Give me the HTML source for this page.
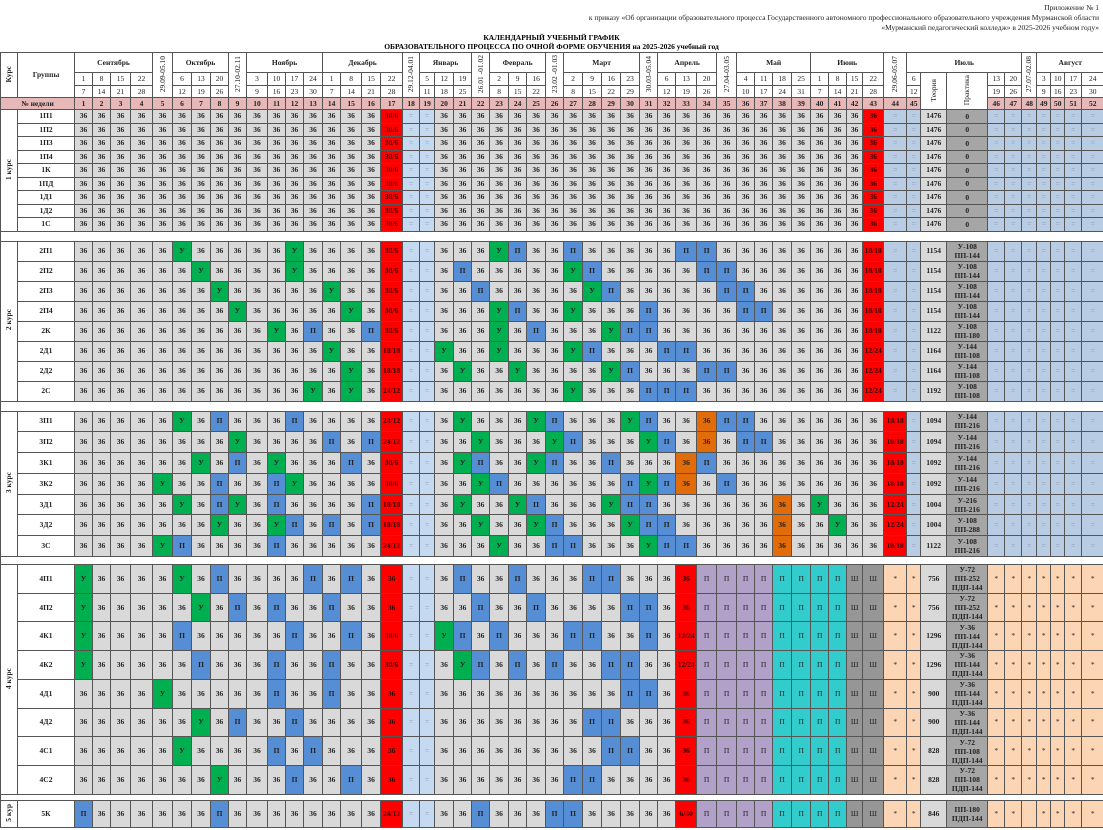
<!DOCTYPE html>
<html><head><meta charset="utf-8">
<style>
body{margin:0;width:1103px;height:830px;background:#fff;position:relative;overflow:hidden;font-family:"Liberation Serif","DejaVu Serif",serif;}
.t1{position:absolute;right:4px;font-size:7.5px;color:#222;line-height:9px;text-align:right}
.hd{position:absolute;left:0;width:1103px;text-align:center;font-size:7.5px;font-weight:bold;line-height:9px}
table{position:absolute;left:0;top:52px;width:1103px;border-collapse:collapse;table-layout:fixed}
td{border:1px solid #555;padding:0;text-align:center;vertical-align:middle;font-size:7.5px;font-weight:bold;line-height:8px;background:#d9d9d9;color:#222;overflow:hidden;white-space:nowrap}
thead td{background:#fff;font-weight:normal}
thead td.m{font-weight:bold}
.vt{writing-mode:vertical-rl;transform:rotate(180deg);display:inline-block;font-weight:normal;font-size:7.5px}
tr.wk td{background:#e6b8b7;font-weight:bold;height:11px}
td.gn{background:#fff}
td.k{background:#fff}
td.k div{writing-mode:vertical-rl;transform:rotate(180deg);display:inline-block;font-size:7.5px}
.u{background:#00b050}.p{background:#558ed5}.r{background:#ff0000;color:#300}
.e{background:#c5d9f1;color:#889;font-weight:normal}.s{background:#b8cce4;color:#889;font-weight:normal}
.o{background:#e26b0a}.v{background:#b1a0c7;font-weight:normal}.t{background:#33cccc;font-weight:normal}.w{background:#969696;font-weight:normal}
.a{background:#fcd5b4;font-weight:normal}.th{background:#d9d9d9}.pr{background:#a6a6a6;white-space:normal;line-height:9px}
tr.h1 td{height:12.5px}tr.h2 td{height:19px}tr.h3 td{height:19.8px}tr.h4 td{height:27.7px}tr.h5 td{height:26px}
tr.gap td{background:#fff;border-left:1px solid #555;border-right:1px solid #555}
</style></head><body>
<div class="t1" style="top:3px">Приложение № 1</div>
<div class="t1" style="top:13px">к приказу «Об организации образовательного процесса Государственного автономного профессионального образовательного учреждения Мурманской области</div>
<div class="t1" style="top:23px">«Мурманский педагогический колледж» в 2025-2026 учебном году»</div>
<div class="hd" style="top:33px">КАЛЕНДАРНЫЙ УЧЕБНЫЙ ГРАФИК</div>
<div class="hd" style="top:42px">ОБРАЗОВАТЕЛЬНОГО ПРОЦЕССА ПО ОЧНОЙ ФОРМЕ ОБУЧЕНИЯ на 2025-2026 учебный год</div>
<table>
<colgroup>
<col style="width:17px"><col style="width:57px">
<col style="width:18px"><col style="width:18px"><col style="width:20px"><col style="width:22px"><col style="width:20px"><col style="width:19px"><col style="width:19px"><col style="width:18px"><col style="width:18px"><col style="width:21px"><col style="width:18px"><col style="width:18px"><col style="width:19px"><col style="width:18px"><col style="width:21px"><col style="width:19px"><col style="width:22px"><col style="width:17px"><col style="width:15px"><col style="width:19px"><col style="width:18px"><col style="width:18px"><col style="width:19px"><col style="width:18px"><col style="width:19px"><col style="width:18px"><col style="width:19px"><col style="width:19px"><col style="width:19px"><col style="width:19px"><col style="width:18px"><col style="width:18px"><col style="width:21px"><col style="width:20px"><col style="width:20px"><col style="width:18px"><col style="width:18px"><col style="width:19px"><col style="width:19px"><col style="width:18px"><col style="width:18px"><col style="width:16px"><col style="width:21px"><col style="width:23px"><col style="width:14px">
<col style="width:26px"><col style="width:41px">
<col style="width:17px"><col style="width:17px"><col style="width:15px"><col style="width:14px"><col style="width:14px"><col style="width:17px"><col style="width:22px">
</colgroup>
<thead>
<tr style="height:20px"><td rowspan=3 class=m><span class="vt" style="font-weight:bold">Курс</span><td rowspan=3 class=m>Группы<td colspan=4 class=m>Сентябрь<td rowspan=3><span class=vt>29.09-05.10</span><td colspan=3 class=m>Октябрь<td rowspan=3><span class=vt>27.10-02.11</span><td colspan=4 class=m>Ноябрь<td colspan=4 class=m>Декабрь<td rowspan=3><span class=vt>29.12-04.01</span><td colspan=3 class=m>Январь<td rowspan=3><span class=vt>26.01 -01.02</span><td colspan=3 class=m>Февраль<td rowspan=3><span class=vt>23.02 -01.03</span><td colspan=4 class=m>Март<td rowspan=3><span class=vt>30.03-05.04</span><td colspan=3 class=m>Апрель<td rowspan=3><span class=vt>27.04-03.05</span><td colspan=4 class=m>Май<td colspan=4 class=m>Июнь<td rowspan=3><span class=vt>29.06-05.07</span><td colspan=5 class=m>Июль<td rowspan=3><span class=vt>27.07-02.08</span><td colspan=4 class=m>Август
<tr style="height:13px"><td>1<td>8<td>15<td>22<td>6<td>13<td>20<td>3<td>10<td>17<td>24<td>1<td>8<td>15<td>22<td>5<td>12<td>19<td>2<td>9<td>16<td>2<td>9<td>16<td>23<td>6<td>13<td>20<td>4<td>11<td>18<td>25<td>1<td>8<td>15<td>22<td>6<td rowspan=3><span class=vt>Теория</span><td rowspan=3><span class=vt>Практика</span><td>13<td>20<td>3<td>10<td>17<td>24
<tr style="height:12px"><td>7<td>14<td>21<td>28<td>12<td>19<td>26<td>9<td>16<td>23<td>30<td>7<td>14<td>21<td>28<td>11<td>18<td>25<td>8<td>15<td>22<td>8<td>15<td>22<td>29<td>12<td>19<td>26<td>10<td>17<td>24<td>31<td>7<td>14<td>21<td>28<td>12<td>19<td>26<td>9<td>16<td>23<td>30
<tr class=wk><td colspan=2>№ недели<td>1<td>2<td>3<td>4<td>5<td>6<td>7<td>8<td>9<td>10<td>11<td>12<td>13<td>14<td>15<td>16<td>17<td>18<td>19<td>20<td>21<td>22<td>23<td>24<td>25<td>26<td>27<td>28<td>29<td>30<td>31<td>32<td>33<td>34<td>35<td>36<td>37<td>38<td>39<td>40<td>41<td>42<td>43<td>44<td>45<td>46<td>47<td>48<td>49<td>50<td>51<td>52
</thead>
<tbody>
<tr class=h1><td rowspan=9 class=k><div>1 курс</div><td class=gn>1П1<td>36<td>36<td>36<td>36<td>36<td>36<td>36<td>36<td>36<td>36<td>36<td>36<td>36<td>36<td>36<td>36<td class=r>30/6<td class=e>=<td class=e>=<td>36<td>36<td>36<td>36<td>36<td>36<td>36<td>36<td>36<td>36<td>36<td>36<td>36<td>36<td>36<td>36<td>36<td>36<td>36<td>36<td>36<td>36<td>36<td class=r>36<td class=s>=<td class=s>=<td class=th>1476<td class=pr>0<td class=s>=<td class=s>=<td class=s>=<td class=s>=<td class=s>=<td class=s>=<td class=s>=
<tr class=h1><td class=gn>1П2<td>36<td>36<td>36<td>36<td>36<td>36<td>36<td>36<td>36<td>36<td>36<td>36<td>36<td>36<td>36<td>36<td class=r>30/6<td class=e>=<td class=e>=<td>36<td>36<td>36<td>36<td>36<td>36<td>36<td>36<td>36<td>36<td>36<td>36<td>36<td>36<td>36<td>36<td>36<td>36<td>36<td>36<td>36<td>36<td>36<td class=r>36<td class=s>=<td class=s>=<td class=th>1476<td class=pr>0<td class=s>=<td class=s>=<td class=s>=<td class=s>=<td class=s>=<td class=s>=<td class=s>=
<tr class=h1><td class=gn>1П3<td>36<td>36<td>36<td>36<td>36<td>36<td>36<td>36<td>36<td>36<td>36<td>36<td>36<td>36<td>36<td>36<td class=r>30/6<td class=e>=<td class=e>=<td>36<td>36<td>36<td>36<td>36<td>36<td>36<td>36<td>36<td>36<td>36<td>36<td>36<td>36<td>36<td>36<td>36<td>36<td>36<td>36<td>36<td>36<td>36<td class=r>36<td class=s>=<td class=s>=<td class=th>1476<td class=pr>0<td class=s>=<td class=s>=<td class=s>=<td class=s>=<td class=s>=<td class=s>=<td class=s>=
<tr class=h1><td class=gn>1П4<td>36<td>36<td>36<td>36<td>36<td>36<td>36<td>36<td>36<td>36<td>36<td>36<td>36<td>36<td>36<td>36<td class=r>30/6<td class=e>=<td class=e>=<td>36<td>36<td>36<td>36<td>36<td>36<td>36<td>36<td>36<td>36<td>36<td>36<td>36<td>36<td>36<td>36<td>36<td>36<td>36<td>36<td>36<td>36<td>36<td class=r>36<td class=s>=<td class=s>=<td class=th>1476<td class=pr>0<td class=s>=<td class=s>=<td class=s>=<td class=s>=<td class=s>=<td class=s>=<td class=s>=
<tr class=h1><td class=gn>1К<td>36<td>36<td>36<td>36<td>36<td>36<td>36<td>36<td>36<td>36<td>36<td>36<td>36<td>36<td>36<td>36<td class=r>30/6<td class=e>=<td class=e>=<td>36<td>36<td>36<td>36<td>36<td>36<td>36<td>36<td>36<td>36<td>36<td>36<td>36<td>36<td>36<td>36<td>36<td>36<td>36<td>36<td>36<td>36<td>36<td class=r>36<td class=s>=<td class=s>=<td class=th>1476<td class=pr>0<td class=s>=<td class=s>=<td class=s>=<td class=s>=<td class=s>=<td class=s>=<td class=s>=
<tr class=h1><td class=gn>1ПД<td>36<td>36<td>36<td>36<td>36<td>36<td>36<td>36<td>36<td>36<td>36<td>36<td>36<td>36<td>36<td>36<td class=r>30/6<td class=e>=<td class=e>=<td>36<td>36<td>36<td>36<td>36<td>36<td>36<td>36<td>36<td>36<td>36<td>36<td>36<td>36<td>36<td>36<td>36<td>36<td>36<td>36<td>36<td>36<td>36<td class=r>36<td class=s>=<td class=s>=<td class=th>1476<td class=pr>0<td class=s>=<td class=s>=<td class=s>=<td class=s>=<td class=s>=<td class=s>=<td class=s>=
<tr class=h1><td class=gn>1Д1<td>36<td>36<td>36<td>36<td>36<td>36<td>36<td>36<td>36<td>36<td>36<td>36<td>36<td>36<td>36<td>36<td class=r>30/6<td class=e>=<td class=e>=<td>36<td>36<td>36<td>36<td>36<td>36<td>36<td>36<td>36<td>36<td>36<td>36<td>36<td>36<td>36<td>36<td>36<td>36<td>36<td>36<td>36<td>36<td>36<td class=r>36<td class=s>=<td class=s>=<td class=th>1476<td class=pr>0<td class=s>=<td class=s>=<td class=s>=<td class=s>=<td class=s>=<td class=s>=<td class=s>=
<tr class=h1><td class=gn>1Д2<td>36<td>36<td>36<td>36<td>36<td>36<td>36<td>36<td>36<td>36<td>36<td>36<td>36<td>36<td>36<td>36<td class=r>30/6<td class=e>=<td class=e>=<td>36<td>36<td>36<td>36<td>36<td>36<td>36<td>36<td>36<td>36<td>36<td>36<td>36<td>36<td>36<td>36<td>36<td>36<td>36<td>36<td>36<td>36<td>36<td class=r>36<td class=s>=<td class=s>=<td class=th>1476<td class=pr>0<td class=s>=<td class=s>=<td class=s>=<td class=s>=<td class=s>=<td class=s>=<td class=s>=
<tr class=h1><td class=gn>1С<td>36<td>36<td>36<td>36<td>36<td>36<td>36<td>36<td>36<td>36<td>36<td>36<td>36<td>36<td>36<td>36<td class=r>30/6<td class=e>=<td class=e>=<td>36<td>36<td>36<td>36<td>36<td>36<td>36<td>36<td>36<td>36<td>36<td>36<td>36<td>36<td>36<td>36<td>36<td>36<td>36<td>36<td>36<td>36<td>36<td class=r>36<td class=s>=<td class=s>=<td class=th>1476<td class=pr>0<td class=s>=<td class=s>=<td class=s>=<td class=s>=<td class=s>=<td class=s>=<td class=s>=
<tr class=gap><td colspan=56 style="height:9px">

<tr class=h2><td rowspan=8 class=k><div>2 курс</div><td class=gn>2П1<td>36<td>36<td>36<td>36<td>36<td class=u>У<td>36<td>36<td>36<td>36<td>36<td class=u>У<td>36<td>36<td>36<td>36<td class=r>30/6<td class=e>=<td class=e>=<td>36<td>36<td>36<td class=u>У<td class=p>П<td>36<td>36<td class=p>П<td>36<td>36<td>36<td>36<td>36<td class=p>П<td class=p>П<td>36<td>36<td>36<td>36<td>36<td>36<td>36<td>36<td class=r>18/18<td class=s>=<td class=s>=<td class=th>1154<td class=pr>У-108<br>ПП-144<td class=s>=<td class=s>=<td class=s>=<td class=s>=<td class=s>=<td class=s>=<td class=s>=
<tr class=h2><td class=gn>2П2<td>36<td>36<td>36<td>36<td>36<td>36<td class=u>У<td>36<td>36<td>36<td>36<td class=u>У<td>36<td>36<td>36<td>36<td class=r>30/6<td class=e>=<td class=e>=<td>36<td class=p>П<td>36<td>36<td>36<td>36<td>36<td class=u>У<td class=p>П<td>36<td>36<td>36<td>36<td>36<td class=p>П<td class=p>П<td>36<td>36<td>36<td>36<td>36<td>36<td>36<td class=r>18/18<td class=s>=<td class=s>=<td class=th>1154<td class=pr>У-108<br>ПП-144<td class=s>=<td class=s>=<td class=s>=<td class=s>=<td class=s>=<td class=s>=<td class=s>=
<tr class=h2><td class=gn>2П3<td>36<td>36<td>36<td>36<td>36<td>36<td>36<td class=u>У<td>36<td>36<td>36<td>36<td>36<td class=u>У<td>36<td>36<td class=r>30/6<td class=e>=<td class=e>=<td>36<td>36<td class=p>П<td>36<td>36<td>36<td>36<td>36<td class=u>У<td class=p>П<td>36<td>36<td>36<td>36<td>36<td class=p>П<td class=p>П<td>36<td>36<td>36<td>36<td>36<td>36<td class=r>18/18<td class=s>=<td class=s>=<td class=th>1154<td class=pr>У-108<br>ПП-144<td class=s>=<td class=s>=<td class=s>=<td class=s>=<td class=s>=<td class=s>=<td class=s>=
<tr class=h2><td class=gn>2П4<td>36<td>36<td>36<td>36<td>36<td>36<td>36<td>36<td class=u>У<td>36<td>36<td>36<td>36<td>36<td class=u>У<td>36<td class=r>30/6<td class=e>=<td class=e>=<td>36<td>36<td>36<td class=u>У<td class=p>П<td>36<td>36<td class=u>У<td>36<td>36<td>36<td class=p>П<td>36<td>36<td>36<td>36<td class=p>П<td class=p>П<td>36<td>36<td>36<td>36<td>36<td class=r>18/18<td class=s>=<td class=s>=<td class=th>1154<td class=pr>У-108<br>ПП-144<td class=s>=<td class=s>=<td class=s>=<td class=s>=<td class=s>=<td class=s>=<td class=s>=
<tr class=h2><td class=gn>2К<td>36<td>36<td>36<td>36<td>36<td>36<td>36<td>36<td>36<td>36<td class=u>У<td>36<td class=p>П<td>36<td>36<td class=p>П<td class=r>30/6<td class=e>=<td class=e>=<td>36<td>36<td>36<td class=u>У<td>36<td class=p>П<td>36<td>36<td>36<td class=u>У<td class=p>П<td class=p>П<td>36<td>36<td>36<td>36<td>36<td>36<td>36<td>36<td>36<td>36<td>36<td class=r>18/18<td class=s>=<td class=s>=<td class=th>1122<td class=pr>У-108<br>ПП-180<td class=s>=<td class=s>=<td class=s>=<td class=s>=<td class=s>=<td class=s>=<td class=s>=
<tr class=h2><td class=gn>2Д1<td>36<td>36<td>36<td>36<td>36<td>36<td>36<td>36<td>36<td>36<td>36<td>36<td>36<td class=u>У<td>36<td>36<td class=r>18/18<td class=e>=<td class=e>=<td class=u>У<td>36<td>36<td class=u>У<td>36<td>36<td>36<td class=u>У<td class=p>П<td>36<td>36<td>36<td class=p>П<td class=p>П<td>36<td>36<td>36<td>36<td>36<td>36<td>36<td>36<td>36<td class=r>12/24<td class=s>=<td class=s>=<td class=th>1164<td class=pr>У-144<br>ПП-108<td class=s>=<td class=s>=<td class=s>=<td class=s>=<td class=s>=<td class=s>=<td class=s>=
<tr class=h2><td class=gn>2Д2<td>36<td>36<td>36<td>36<td>36<td>36<td>36<td>36<td>36<td>36<td>36<td>36<td>36<td>36<td class=u>У<td>36<td class=r>18/18<td class=e>=<td class=e>=<td>36<td class=u>У<td>36<td>36<td class=u>У<td>36<td>36<td>36<td>36<td class=u>У<td class=p>П<td>36<td>36<td>36<td class=p>П<td class=p>П<td>36<td>36<td>36<td>36<td>36<td>36<td>36<td class=r>12/24<td class=s>=<td class=s>=<td class=th>1164<td class=pr>У-144<br>ПП-108<td class=s>=<td class=s>=<td class=s>=<td class=s>=<td class=s>=<td class=s>=<td class=s>=
<tr class=h2><td class=gn>2С<td>36<td>36<td>36<td>36<td>36<td>36<td>36<td>36<td>36<td>36<td>36<td>36<td class=u>У<td>36<td class=u>У<td>36<td class=r>24/12<td class=e>=<td class=e>=<td>36<td>36<td>36<td>36<td>36<td>36<td>36<td class=u>У<td>36<td>36<td>36<td class=p>П<td class=p>П<td class=p>П<td>36<td>36<td>36<td>36<td>36<td>36<td>36<td>36<td>36<td class=r>12/24<td class=s>=<td class=s>=<td class=th>1192<td class=pr>У-108<br>ПП-108<td class=s>=<td class=s>=<td class=s>=<td class=s>=<td class=s>=<td class=s>=<td class=s>=
<tr class=gap><td colspan=56 style="height:9px">

<tr class=h3><td rowspan=7 class=k><div>3 курс</div><td class=gn>3П1<td>36<td>36<td>36<td>36<td>36<td class=u>У<td>36<td class=p>П<td>36<td>36<td>36<td class=p>П<td>36<td>36<td>36<td>36<td class=r>24/12<td class=e>=<td class=e>=<td>36<td class=u>У<td>36<td>36<td>36<td class=u>У<td class=p>П<td>36<td>36<td>36<td class=u>У<td class=p>П<td>36<td>36<td class=o>36<td class=p>П<td class=p>П<td>36<td>36<td>36<td>36<td>36<td>36<td>36<td class=r>18/18<td class=s>=<td class=th>1094<td class=pr>У-144<br>ПП-216<td class=s>=<td class=s>=<td class=s>=<td class=s>=<td class=s>=<td class=s>=<td class=s>=
<tr class=h3><td class=gn>3П2<td>36<td>36<td>36<td>36<td>36<td>36<td>36<td>36<td class=u>У<td>36<td>36<td>36<td>36<td class=p>П<td>36<td class=p>П<td class=r>24/12<td class=e>=<td class=e>=<td>36<td>36<td class=u>У<td>36<td>36<td>36<td class=u>У<td class=p>П<td>36<td>36<td>36<td class=u>У<td class=p>П<td>36<td class=o>36<td>36<td class=p>П<td class=p>П<td>36<td>36<td>36<td>36<td>36<td>36<td class=r>18/18<td class=s>=<td class=th>1094<td class=pr>У-144<br>ПП-216<td class=s>=<td class=s>=<td class=s>=<td class=s>=<td class=s>=<td class=s>=<td class=s>=
<tr class=h3><td class=gn>3К1<td>36<td>36<td>36<td>36<td>36<td>36<td class=u>У<td>36<td class=p>П<td>36<td class=u>У<td>36<td>36<td>36<td class=p>П<td>36<td class=r>30/6<td class=e>=<td class=e>=<td>36<td class=u>У<td class=p>П<td>36<td>36<td class=u>У<td class=p>П<td>36<td>36<td class=p>П<td>36<td>36<td>36<td class=o>36<td class=p>П<td>36<td>36<td>36<td>36<td>36<td>36<td>36<td>36<td>36<td class=r>18/18<td class=s>=<td class=th>1092<td class=pr>У-144<br>ПП-216<td class=s>=<td class=s>=<td class=s>=<td class=s>=<td class=s>=<td class=s>=<td class=s>=
<tr class=h3><td class=gn>3К2<td>36<td>36<td>36<td>36<td class=u>У<td>36<td>36<td class=p>П<td>36<td>36<td class=p>П<td class=u>У<td>36<td>36<td>36<td>36<td class=r>30/6<td class=e>=<td class=e>=<td>36<td>36<td class=u>У<td class=p>П<td>36<td>36<td>36<td>36<td>36<td>36<td class=p>П<td class=u>У<td class=p>П<td class=o>36<td>36<td class=p>П<td>36<td>36<td>36<td>36<td>36<td>36<td>36<td>36<td class=r>18/18<td class=s>=<td class=th>1092<td class=pr>У-144<br>ПП-216<td class=s>=<td class=s>=<td class=s>=<td class=s>=<td class=s>=<td class=s>=<td class=s>=
<tr class=h3><td class=gn>3Д1<td>36<td>36<td>36<td>36<td>36<td class=u>У<td>36<td class=p>П<td class=u>У<td>36<td class=p>П<td>36<td>36<td>36<td>36<td class=p>П<td class=r>18/18<td class=e>=<td class=e>=<td>36<td class=u>У<td>36<td>36<td class=u>У<td class=p>П<td>36<td>36<td>36<td class=u>У<td class=p>П<td class=p>П<td>36<td>36<td>36<td>36<td>36<td>36<td class=o>36<td>36<td class=u>У<td>36<td>36<td>36<td class=r>12/24<td class=s>=<td class=th>1004<td class=pr>У-216<br>ПП-216<td class=s>=<td class=s>=<td class=s>=<td class=s>=<td class=s>=<td class=s>=<td class=s>=
<tr class=h3><td class=gn>3Д2<td>36<td>36<td>36<td>36<td>36<td>36<td>36<td class=u>У<td>36<td>36<td class=u>У<td class=p>П<td>36<td class=p>П<td>36<td class=p>П<td class=r>18/18<td class=e>=<td class=e>=<td>36<td>36<td class=u>У<td>36<td>36<td class=u>У<td class=p>П<td>36<td>36<td>36<td class=u>У<td class=p>П<td class=p>П<td>36<td>36<td>36<td>36<td>36<td class=o>36<td>36<td>36<td class=u>У<td>36<td>36<td class=r>12/24<td class=s>=<td class=th>1004<td class=pr>У-108<br>ПП-288<td class=s>=<td class=s>=<td class=s>=<td class=s>=<td class=s>=<td class=s>=<td class=s>=
<tr class=h3><td class=gn>3С<td>36<td>36<td>36<td>36<td class=u>У<td class=p>П<td>36<td>36<td>36<td>36<td class=p>П<td>36<td>36<td>36<td>36<td>36<td class=r>24/12<td class=e>=<td class=e>=<td>36<td>36<td>36<td class=u>У<td>36<td>36<td class=p>П<td class=p>П<td>36<td>36<td>36<td class=u>У<td class=p>П<td class=p>П<td>36<td>36<td>36<td>36<td class=o>36<td>36<td>36<td>36<td>36<td>36<td class=r>18/18<td class=s>=<td class=th>1122<td class=pr>У-108<br>ПП-216<td class=s>=<td class=s>=<td class=s>=<td class=s>=<td class=s>=<td class=s>=<td class=s>=
<tr class=gap><td colspan=56 style="height:7px">

<tr class=h4><td rowspan=8 class=k><div>4 курс</div><td class=gn>4П1<td class=u>У<td>36<td>36<td>36<td>36<td class=u>У<td>36<td class=p>П<td>36<td>36<td>36<td>36<td class=p>П<td>36<td class=p>П<td>36<td class=r>36<td class=e>=<td class=e>=<td>36<td class=p>П<td>36<td>36<td class=p>П<td>36<td>36<td>36<td class=p>П<td class=p>П<td>36<td>36<td>36<td class=r>36<td class=v>П<td class=v>П<td class=v>П<td class=v>П<td class=t>П<td class=t>П<td class=t>П<td class=t>П<td class=w>Ш<td class=w>Ш<td class=a>*<td class=a>*<td class=th>756<td class=pr>У-72<br>ПП-252<br>ПДП-144<td class=a>*<td class=a>*<td class=a>*<td class=a>*<td class=a>*<td class=a>*<td class=a>*
<tr class=h4><td class=gn>4П2<td class=u>У<td>36<td>36<td>36<td>36<td>36<td class=u>У<td>36<td class=p>П<td>36<td class=p>П<td>36<td>36<td class=p>П<td>36<td>36<td class=r>36<td class=e>=<td class=e>=<td>36<td>36<td class=p>П<td>36<td>36<td class=p>П<td>36<td>36<td>36<td>36<td class=p>П<td class=p>П<td>36<td class=r>36<td class=v>П<td class=v>П<td class=v>П<td class=v>П<td class=t>П<td class=t>П<td class=t>П<td class=t>П<td class=w>Ш<td class=w>Ш<td class=a>*<td class=a>*<td class=th>756<td class=pr>У-72<br>ПП-252<br>ПДП-144<td class=a>*<td class=a>*<td class=a>*<td class=a>*<td class=a>*<td class=a>*<td class=a>*
<tr class=h4><td class=gn>4К1<td class=u>У<td>36<td>36<td>36<td>36<td class=p>П<td>36<td>36<td>36<td>36<td>36<td class=p>П<td>36<td>36<td class=p>П<td>36<td class=r>30/6<td class=e>=<td class=e>=<td class=u>У<td class=p>П<td>36<td class=p>П<td>36<td>36<td>36<td class=p>П<td class=p>П<td>36<td>36<td class=p>П<td>36<td class=r>12/24<td class=v>П<td class=v>П<td class=v>П<td class=v>П<td class=t>П<td class=t>П<td class=t>П<td class=t>П<td class=w>Ш<td class=w>Ш<td class=a>*<td class=a>*<td class=th>1296<td class=pr>У-36<br>ПП-144<br>ПДП-144<td class=a>*<td class=a>*<td class=a>*<td class=a>*<td class=a>*<td class=a>*<td class=a>*
<tr class=h4><td class=gn>4К2<td class=u>У<td>36<td>36<td>36<td>36<td>36<td class=p>П<td>36<td>36<td>36<td class=p>П<td>36<td>36<td class=p>П<td>36<td>36<td class=r>30/6<td class=e>=<td class=e>=<td>36<td class=u>У<td class=p>П<td>36<td class=p>П<td>36<td class=p>П<td>36<td>36<td class=p>П<td class=p>П<td>36<td>36<td class=r>12/24<td class=v>П<td class=v>П<td class=v>П<td class=v>П<td class=t>П<td class=t>П<td class=t>П<td class=t>П<td class=w>Ш<td class=w>Ш<td class=a>*<td class=a>*<td class=th>1296<td class=pr>У-36<br>ПП-144<br>ПДП-144<td class=a>*<td class=a>*<td class=a>*<td class=a>*<td class=a>*<td class=a>*<td class=a>*
<tr class=h4><td class=gn>4Д1<td>36<td>36<td>36<td>36<td class=u>У<td>36<td>36<td>36<td>36<td>36<td class=p>П<td>36<td>36<td class=p>П<td>36<td>36<td class=r>36<td class=e>=<td class=e>=<td>36<td>36<td>36<td>36<td>36<td>36<td>36<td>36<td>36<td>36<td class=p>П<td class=p>П<td>36<td class=r>36<td class=v>П<td class=v>П<td class=v>П<td class=v>П<td class=t>П<td class=t>П<td class=t>П<td class=t>П<td class=w>Ш<td class=w>Ш<td class=a>*<td class=a>*<td class=th>900<td class=pr>У-36<br>ПП-144<br>ПДП-144<td class=a>*<td class=a>*<td class=a>*<td class=a>*<td class=a>*<td class=a>*<td class=a>*
<tr class=h4><td class=gn>4Д2<td>36<td>36<td>36<td>36<td>36<td>36<td class=u>У<td>36<td class=p>П<td>36<td>36<td class=p>П<td>36<td>36<td>36<td>36<td class=r>36<td class=e>=<td class=e>=<td>36<td>36<td>36<td>36<td>36<td>36<td>36<td>36<td class=p>П<td class=p>П<td>36<td>36<td>36<td class=r>36<td class=v>П<td class=v>П<td class=v>П<td class=v>П<td class=t>П<td class=t>П<td class=t>П<td class=t>П<td class=w>Ш<td class=w>Ш<td class=a>*<td class=a>*<td class=th>900<td class=pr>У-36<br>ПП-144<br>ПДП-144<td class=a>*<td class=a>*<td class=a>*<td class=a>*<td class=a>*<td class=a>*<td class=a>*
<tr class=h4><td class=gn>4С1<td>36<td>36<td>36<td>36<td>36<td class=u>У<td>36<td>36<td>36<td>36<td class=p>П<td>36<td class=p>П<td>36<td>36<td>36<td class=r>36<td class=e>=<td class=e>=<td>36<td>36<td>36<td>36<td>36<td>36<td>36<td>36<td>36<td class=p>П<td class=p>П<td>36<td>36<td class=r>36<td class=v>П<td class=v>П<td class=v>П<td class=v>П<td class=t>П<td class=t>П<td class=t>П<td class=t>П<td class=w>Ш<td class=w>Ш<td class=a>*<td class=a>*<td class=th>828<td class=pr>У-72<br>ПП-108<br>ПДП-144<td class=a>*<td class=a>*<td class=a>*<td class=a>*<td class=a>*<td class=a>*<td class=a>*
<tr class=h4><td class=gn>4С2<td>36<td>36<td>36<td>36<td>36<td>36<td>36<td class=u>У<td>36<td>36<td>36<td class=p>П<td>36<td>36<td class=p>П<td>36<td class=r>36<td class=e>=<td class=e>=<td>36<td>36<td>36<td>36<td>36<td>36<td>36<td class=p>П<td class=p>П<td>36<td>36<td>36<td>36<td class=r>36<td class=v>П<td class=v>П<td class=v>П<td class=v>П<td class=t>П<td class=t>П<td class=t>П<td class=t>П<td class=w>Ш<td class=w>Ш<td class=a>*<td class=a>*<td class=th>828<td class=pr>У-72<br>ПП-108<br>ПДП-144<td class=a>*<td class=a>*<td class=a>*<td class=a>*<td class=a>*<td class=a>*<td class=a>*
<tr class=gap><td colspan=56 style="height:5px">

<tr class=h5><td class=k><div>5 кур</div><td class=gn>5К<td class=p>П<td>36<td>36<td>36<td>36<td>36<td>36<td class=p>П<td>36<td>36<td>36<td>36<td>36<td>36<td>36<td>36<td class=r>24/12<td class=e>=<td class=e>=<td>36<td>36<td class=p>П<td>36<td>36<td>36<td class=p>П<td class=p>П<td>36<td>36<td>36<td>36<td>36<td class=r>6/30<td class=v>П<td class=v>П<td class=v>П<td class=v>П<td class=t>П<td class=t>П<td class=t>П<td class=t>П<td class=w>Ш<td class=w>Ш<td class=a>*<td class=a>*<td class=th>846<td class=pr>ПП-180<br>ПДП-144<td class=a>*<td class=a>*<td class=a><td class=a>*<td class=a>*<td class=a>*<td class=a>*
</tbody>
</table>
</body></html>
